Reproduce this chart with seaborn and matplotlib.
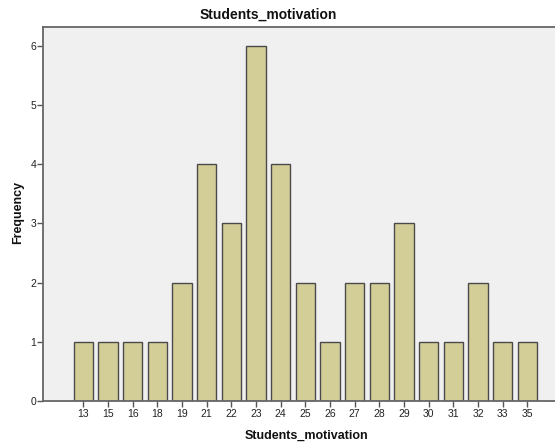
import numpy as np
import pandas as pd
import matplotlib
matplotlib.use('Agg')
import matplotlib.pyplot as plt
import seaborn as sns

scores = ['13', '15', '16', '18', '19', '21', '22', '23', '24', '25',
          '26', '27', '28', '29', '30', '31', '32', '33', '35']
freq = [1, 1, 1, 1, 2, 4, 3, 6, 4, 2, 1, 2, 2, 3, 1, 1, 2, 1, 1]

df = pd.DataFrame({'score': scores, 'freq': freq})

sns.set_style('white')
plt.rcParams['font.family'] = ['Liberation Sans', 'DejaVu Sans']

fig = plt.figure(figsize=(5.55, 4.44), dpi=100)
ax = fig.add_axes([43/555, 43/444, 513/555, 374/444])
ax.set_facecolor('#F0F0F0')

sns.barplot(data=df, x='score', y='freq', order=scores, color='#D3CE97',
            edgecolor='#4a4a4a', linewidth=1.0, width=0.78, saturation=1, ax=ax)

ax.set_xlim(-1.63, 19.16)
ax.set_ylim(0, 6.32)
ax.set_yticks(range(0, 7))
ax.set_xlabel('')
ax.set_ylabel('')

for side in ['left', 'bottom', 'top']:
    ax.spines[side].set_color('#666666')
    ax.spines[side].set_linewidth(1.3)
ax.spines['right'].set_visible(False)
ax.tick_params(axis='both', direction='out', length=4, width=1, color='#555555',
               labelsize=7.5, labelcolor='#222222', bottom=True, left=True)
ax.tick_params(axis='x', pad=2)
ax.tick_params(axis='y', pad=1)

fig.text(268/555, 1 - 15/444, 'Students_motivation', ha='center', va='center',
         fontsize=10, fontweight='bold', color='#111111')
fig.text(306/555, 1 - 436/444, 'Students_motivation', ha='center', va='center',
         fontsize=9, fontweight='bold', color='#111111')
fig.text(18/555, 1 - 212/444, 'Frequency', ha='center', va='center', rotation=90,
         fontsize=9, fontweight='bold', color='#111111')

fig.savefig('out.png', dpi=100)
